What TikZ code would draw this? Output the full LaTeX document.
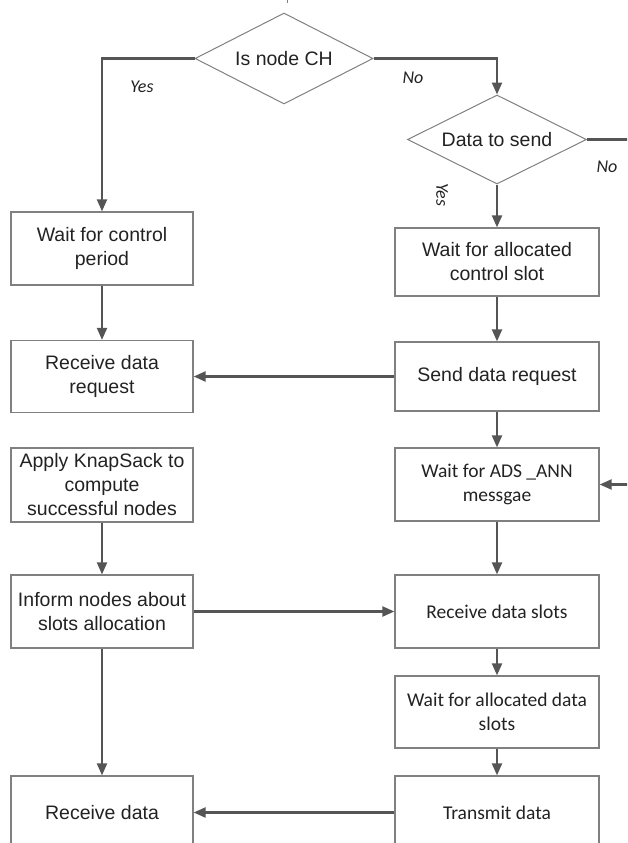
\documentclass[tikz,border=0pt]{standalone}
\usepackage{fontspec}
\setmainfont{Liberation Sans}
\newfontfamily\calfont{Carlito}
\usetikzlibrary{shapes.geometric,arrows.meta}
\definecolor{linegray}{HTML}{555555}
\definecolor{boxgray}{HTML}{808080}
\definecolor{txt}{HTML}{222222}
\tikzset{
  stepbox/.style={draw=boxgray, line width=1.3pt, rectangle, inner sep=0pt, align=center, text=txt,
    font=\fontsize{19.5}{24}\selectfont},
  leftbox/.style={stepbox, minimum width=182pt},
  rightbox/.style={stepbox, minimum width=204pt},
  calbox/.style={font=\calfont\fontsize{19.5}{24}\selectfont},
  decision/.style={draw=boxgray, line width=1pt, diamond, aspect=2, inner sep=0pt, text=txt,
    font=\fontsize{19.5}{24}\selectfont},
  conn/.style={draw=linegray, line width=2.2pt, -{Triangle[length=12pt,width=10pt]}},
  plainline/.style={draw=linegray, line width=2.2pt},
  lbl/.style={font=\calfont\itshape\fontsize{18}{20}\selectfont, text=txt, inner sep=0pt}
}
\begin{document}
\begin{tikzpicture}[x=1pt,y=-1pt]
\useasboundingbox (0,0) rectangle (627,843);
\clip (0,0) rectangle (627,843);
% decisions
\node[decision, minimum width=178pt, minimum height=91pt] (isch) at (284,58.5) {Is node CH};
\node[decision, minimum width=179pt, minimum height=89pt] (dts) at (497,139.5) {Data to send};
% left column
\node[leftbox, minimum height=73pt] (wcp) at (102,248.5) {Wait for control\\period};
\node[leftbox, minimum height=72pt] (rdr) at (102,376.5) {Receive data\\request};
\node[leftbox, minimum height=74pt] (ks) at (102,485) {Apply KnapSack to\\compute\\successful nodes};
\node[leftbox, minimum height=73pt] (inf) at (102,611.5) {Inform nodes about\\slots allocation};
\node[leftbox, minimum height=73pt] (rd) at (102,812.5) {Receive data};
% right column
\node[rightbox, minimum height=68pt] (wac) at (497,262) {Wait for allocated\\control slot};
\node[rightbox, minimum height=69pt] (sdr) at (497,376.5) {Send data request};
\node[rightbox, calbox, minimum height=73pt] (wads) at (497,484.5) {Wait for ADS \_ANN\\messgae};
\node[rightbox, calbox, minimum height=73pt] (rds) at (497,611.5) {Receive data slots};
\node[rightbox, calbox, minimum height=72pt] (wad) at (497,712) {Wait for allocated data\\slots};
\node[rightbox, calbox, minimum height=73pt] (td) at (497,812.5) {Transmit data};
% free ends
\coordinate (edgeA) at (630,139.5);
\coordinate (edgeB) at (630,484.5);
\coordinate (stubA) at (287,-1);
\coordinate (stubB) at (287,3);
% labels
\node[lbl] (yes1) at (142,87) {Yes};
\node[lbl] (no1) at (413,78) {No};
\node[lbl] (no2) at (607,167) {No};
\node[lbl, rotate=-90] (yes2) at (442,195) {Yes};
% connectors
\draw[draw=boxgray, line width=1pt] (stubA) -- (stubB);
\draw[conn] (isch.west) -| (wcp.north);
\draw[conn] (isch.east) -| (dts.north);
\draw[plainline] (dts.east) -- (edgeA);
\draw[conn] (dts.south) -- (wac.north);
\draw[conn] (wac.south) -- (sdr.north);
\draw[conn] (sdr.west) -- (rdr.east);
\draw[conn] (wcp.south) -- (rdr.north);
\draw[conn] (sdr.south) -- (wads.north);
\draw[conn] (edgeB) -- (wads.east);
\draw[conn] (wads.south) -- (rds.north);
\draw[conn] (ks.south) -- (inf.north);
\draw[conn] (inf.east) -- (rds.west);
\draw[conn] (inf.south) -- (rd.north);
\draw[conn] (rds.south) -- (wad.north);
\draw[conn] (wad.south) -- (td.north);
\draw[conn] (td.west) -- (rd.east);
\end{tikzpicture}
\end{document}
